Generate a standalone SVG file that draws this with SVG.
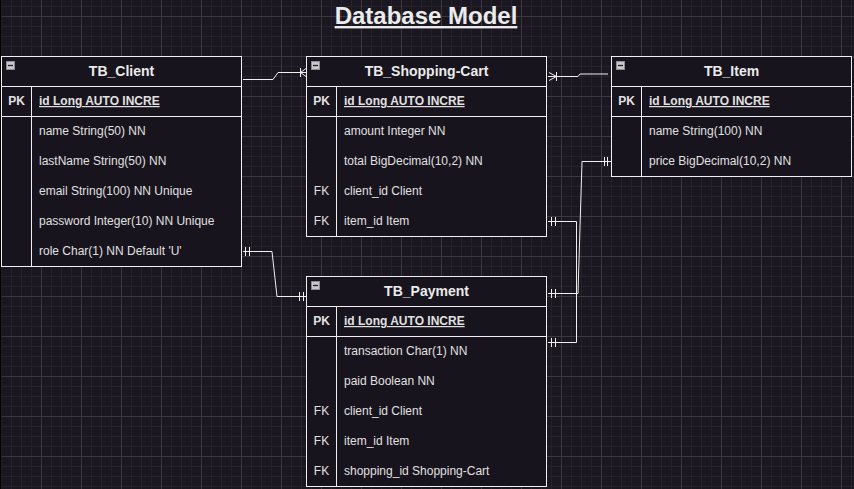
<svg xmlns="http://www.w3.org/2000/svg" width="854" height="489" viewBox="0 0 854 489">
<style>
.tbl{fill:#18141d;stroke:#f0f0f0;stroke-width:1}
.ln{fill:none;stroke:#f0f0f0;stroke-width:1}
.hd{font-family:"Liberation Sans",Arial,sans-serif;font-size:14px;font-weight:bold;fill:#ebebeb;text-anchor:middle}
.key{font-family:"Liberation Sans",Arial,sans-serif;font-size:12px;fill:#e0e0e0;text-anchor:middle}
.pk{font-weight:bold}
.row{font-family:"Liberation Sans",Arial,sans-serif;font-size:12px;fill:#e0e0e0}
.id{font-weight:bold;text-decoration:underline}
.icon{fill:#c8c8cc;stroke:#8c8c90;stroke-width:1}
.minus{stroke:#222;stroke-width:1.3}
.conn{fill:none;stroke:#f0f0f0;stroke-width:1}
</style>
<defs>
<pattern id="grid" x="1" y="16" width="40" height="40" patternUnits="userSpaceOnUse">
<rect width="40" height="40" fill="#1a1720"/>
<path d="M10.5 0V40M20.5 0V40M30.5 0V40M0 10.5H40M0 20.5H40M0 30.5H40" stroke="#25222b" stroke-width="1"/>
<path d="M0.5 0V40M0 0.5H40" stroke="#3b383f" stroke-width="1"/>
</pattern>
<g id="mi"><rect class="icon" x="0.5" y="0.5" width="8" height="8"/><path class="minus" d="M2 4.5H7"/></g>
</defs>
<rect width="854" height="489" fill="url(#grid)"/>
<rect x="0" y="0" width="1.5" height="489" fill="#000"/>
<text x="426" y="24" font-family="Liberation Sans,Arial,sans-serif" font-size="24" font-weight="bold" fill="#ebebeb" text-anchor="middle" text-decoration="underline">Database Model</text>

<g id="connectors">
<path class="conn" d="M243 79.5H273L278 72.5H306"/>
<path class="conn" d="M300.5 68V77M300.5 72.5L306 68.5M300.5 72.5L306 76.5"/>
<path class="conn" d="M548 76.5H578L580 74H608"/>
<path class="conn" d="M556.5 72V81M556.5 76.5L549 72.5M556.5 76.5L549 80.5"/>
<path class="conn" d="M611 161.5H582L578 293.5H548"/>
<path class="conn" d="M604.5 157V166M607.5 157V166M551.5 289V298M555.5 289V298"/>
<path class="conn" d="M548 221.5H576.5V342.5H548"/>
<path class="conn" d="M551.5 217V226M555.5 217V226M551.5 338V347M555.5 338V347"/>
<path class="conn" d="M243 251.5H272L277 296.5H307"/>
<path class="conn" d="M245.5 247V256M249.5 247V256M299.5 292V301M303.5 292V301"/>
</g>

<g id="TB_Client">
<rect class="tbl" x="1.5" y="56.5" width="240" height="210"/>
<path class="ln" d="M1.5 86.5H241.5M1.5 116.5H241.5M31.5 86.5V266.5"/>
<use href="#mi" x="6" y="61"/>
<text class="hd" x="121.5" y="76">TB_Client</text>
<text class="key pk" x="16.5" y="105">PK</text>
<text class="row id" x="39" y="105">id Long AUTO INCRE</text>
<text class="row" x="39" y="135">name String(50) NN</text>
<text class="row" x="39" y="165">lastName String(50) NN</text>
<text class="row" x="39" y="195">email String(100) NN Unique</text>
<text class="row" x="39" y="225">password Integer(10) NN Unique</text>
<text class="row" x="39" y="255">role Char(1) NN Default 'U'</text>
</g>

<g id="TB_Shopping-Cart">
<rect class="tbl" x="306.5" y="56.5" width="240" height="180"/>
<path class="ln" d="M306.5 86.5H546.5M306.5 116.5H546.5M336.5 86.5V236.5"/>
<use href="#mi" x="311" y="61"/>
<text class="hd" x="426.5" y="76">TB_Shopping-Cart</text>
<text class="key pk" x="321.5" y="105">PK</text>
<text class="row id" x="344" y="105">id Long AUTO INCRE</text>
<text class="row" x="344" y="135">amount Integer NN</text>
<text class="row" x="344" y="165">total BigDecimal(10,2) NN</text>
<text class="key" x="321.5" y="195">FK</text>
<text class="row" x="344" y="195">client_id Client</text>
<text class="key" x="321.5" y="225">FK</text>
<text class="row" x="344" y="225">item_id Item</text>
</g>

<g id="TB_Item">
<rect class="tbl" x="611.5" y="56.5" width="240" height="120"/>
<path class="ln" d="M611.5 86.5H851.5M611.5 116.5H851.5M641.5 86.5V176.5"/>
<use href="#mi" x="616" y="61"/>
<text class="hd" x="731.5" y="76">TB_Item</text>
<text class="key pk" x="626.5" y="105">PK</text>
<text class="row id" x="649" y="105">id Long AUTO INCRE</text>
<text class="row" x="649" y="135">name String(100) NN</text>
<text class="row" x="649" y="165">price BigDecimal(10,2) NN</text>
</g>

<g id="TB_Payment">
<rect class="tbl" x="306.5" y="276.5" width="240" height="210"/>
<path class="ln" d="M306.5 306.5H546.5M306.5 336.5H546.5M336.5 306.5V486.5"/>
<use href="#mi" x="311" y="281"/>
<text class="hd" x="426.5" y="296">TB_Payment</text>
<text class="key pk" x="321.5" y="325">PK</text>
<text class="row id" x="344" y="325">id Long AUTO INCRE</text>
<text class="row" x="344" y="355">transaction Char(1) NN</text>
<text class="row" x="344" y="385">paid Boolean NN</text>
<text class="key" x="321.5" y="415">FK</text>
<text class="row" x="344" y="415">client_id Client</text>
<text class="key" x="321.5" y="445">FK</text>
<text class="row" x="344" y="445">item_id Item</text>
<text class="key" x="321.5" y="475">FK</text>
<text class="row" x="344" y="475">shopping_id Shopping-Cart</text>
</g>
</svg>
